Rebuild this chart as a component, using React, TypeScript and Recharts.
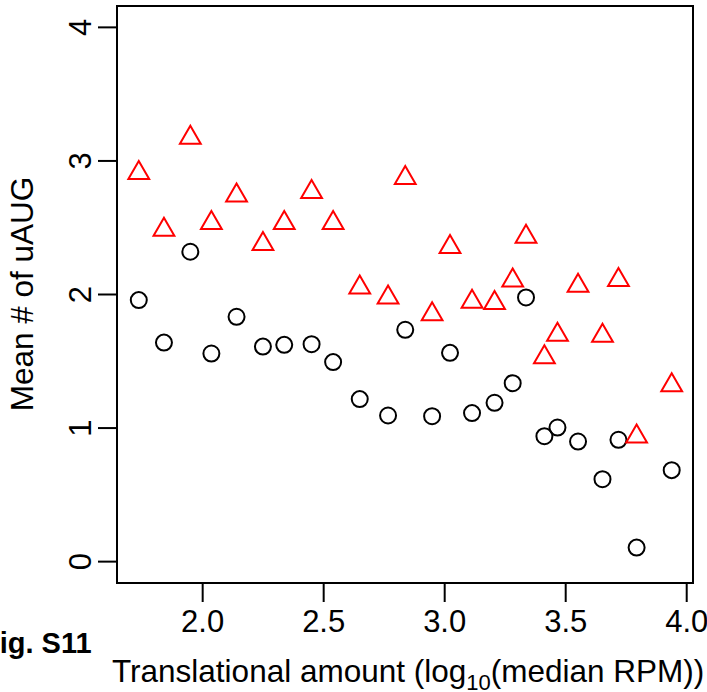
import { ScatterChart, Scatter, XAxis, YAxis, ReferenceArea } from 'recharts'

// log10(median RPM) bins
const binX = [
  1.736, 1.84, 1.949, 2.036, 2.14, 2.249, 2.337, 2.45, 2.539, 2.649, 2.766, 2.837, 2.948,
  3.022, 3.113, 3.206, 3.281, 3.336, 3.412, 3.466, 3.551, 3.652, 3.718, 3.793, 3.938,
]
// red triangles
const triangleMeans = [
  2.909, 2.485, 3.174, 2.535, 2.742, 2.378, 2.535, 2.767, 2.535, 2.052, 1.978, 2.872, 1.853,
  2.355, 1.945, 1.936, 2.105, 2.432, 1.531, 1.698, 2.065, 1.691, 2.108, 0.936, 1.321,
]
// black circles
const circleMeans = [
  1.958, 1.64, 2.32, 1.558, 1.833, 1.61, 1.623, 1.628, 1.494, 1.217, 1.094, 1.736, 1.089,
  1.563, 1.112, 1.189, 1.336, 1.978, 0.939, 1.004, 0.899, 0.617, 0.912, 0.105, 0.685,
]
const xTicks = [2.0, 2.5, 3.0, 3.5, 4.0]
const yTicks = [0, 1, 2, 3, 4]

const X_DOMAIN: [number, number] = [1.646, 4.026]
const Y_DOMAIN: [number, number] = [-0.16, 4.16]

const circleData = binX.map((x, i) => ({ x, y: circleMeans[i] }))
const triangleData = binX.map((x, i) => ({ x, y: triangleMeans[i] }))

const FONT = '"Liberation Sans", Arial, Helvetica, sans-serif'

const Circle = (props: any) => (
  <circle cx={props.cx} cy={props.cy} r={8} fill="none" stroke="#000" strokeWidth={2} />
)

const Triangle = (props: any) => {
  const { cx, cy } = props
  const pts = `${cx},${cy - 12} ${cx + 10.4},${cy + 6} ${cx - 10.4},${cy + 6}`
  return <polygon points={pts} fill="none" stroke="#ff0000" strokeWidth={2} />
}

const XTick = (props: any) => (
  <text x={props.x} y={632} textAnchor="middle" fontSize={31} fontFamily={FONT} fill="#000">
    {Number(props.payload.value).toFixed(1)}
  </text>
)

const YTick = (props: any) => (
  <text
    x={91}
    y={props.y}
    transform={`rotate(-90, 91, ${props.y})`}
    textAnchor="middle"
    fontSize={31}
    fontFamily={FONT}
    fill="#000"
  >
    {props.payload.value}
  </text>
)

const XTitle = () => (
  <g>
    <text x={112} y={682} fontSize={31.5} fontFamily={FONT} fill="#000">
      Translational amount (log
      <tspan fontSize={22} dy={8}>10</tspan>
      <tspan dy={-8}>(median RPM))</tspan>
    </text>
    <text x={-18} y={653} fontSize={29} fontWeight="bold" fontFamily={FONT} fill="#000">
      Fig. S11
    </text>
  </g>
)

const YTitle = () => (
  <text
    x={33}
    y={294}
    transform="rotate(-90, 33, 294)"
    textAnchor="middle"
    fontSize={31.5}
    fontFamily={FONT}
    fill="#000"
  >
    Mean # of uAUG
  </text>
)

export default function App() {
  return (
    <div style={{ position: 'absolute', left: 0, top: 0, background: '#fff' }}>
      <ScatterChart width={707} height={692} margin={{ top: 6, right: 14, bottom: 0, left: 0 }}>
        <XAxis
          type="number"
          dataKey="x"
          domain={X_DOMAIN}
          allowDataOverflow
          ticks={xTicks}
          tick={<XTick />}
          tickSize={19}
          tickLine={{ stroke: '#000', strokeWidth: 2 }}
          axisLine={false}
          height={109}
          label={{ content: () => <XTitle /> }}
        />
        <YAxis
          type="number"
          dataKey="y"
          domain={Y_DOMAIN}
          allowDataOverflow
          ticks={yTicks}
          tick={<YTick />}
          tickSize={19}
          tickLine={{ stroke: '#000', strokeWidth: 2 }}
          axisLine={false}
          width={117}
          label={{ content: () => <YTitle /> }}
        />
        <ReferenceArea
          x1={X_DOMAIN[0]}
          x2={X_DOMAIN[1]}
          y1={Y_DOMAIN[0]}
          y2={Y_DOMAIN[1]}
          fill="none"
          stroke="#000"
          strokeWidth={2}
          fillOpacity={0}
        />
        <Scatter data={circleData} shape={<Circle />} isAnimationActive={false} />
        <Scatter data={triangleData} shape={<Triangle />} isAnimationActive={false} />
      </ScatterChart>
    </div>
  )
}
